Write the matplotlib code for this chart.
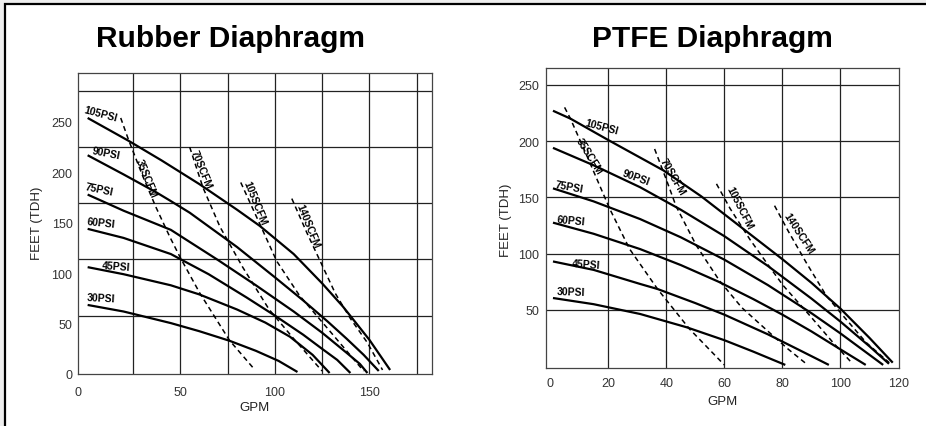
import numpy as np
import matplotlib.pyplot as plt
from matplotlib.patches import Rectangle

plt.rcParams['font.family'] = ['Liberation Sans', 'DejaVu Sans']

# ---------------- Rubber diaphragm (left chart) ----------------
rub_psi_names = ['105PSI', '90PSI', '75PSI', '60PSI', '45PSI', '30PSI']
rub_psi_gpm = [
    [1, 22.5, 40, 60, 80, 92, 110, 125, 136, 150, 161],
    [1, 20, 37.5, 44.6, 55, 80, 100, 115, 128, 138, 147, 155],
    [1, 20, 45, 70, 90, 110, 125, 138, 145, 149],
    [1, 20, 45, 65, 85, 100, 115, 125, 133, 140],
    [1, 20, 45, 60, 80, 95, 108, 120, 129],
    [1, 20, 45, 60, 76, 90, 102, 112],
]
rub_psi_feet = [
    [254, 231.5, 212, 188.5, 163, 147, 119, 90, 67, 34, 4],
    [217, 198, 180, 172, 160, 126, 96, 73, 52, 35, 19, 3],
    [178, 162, 143, 113, 88, 62, 41, 21, 10, 1],
    [144, 135, 119, 99, 76, 58, 39, 25, 14, 1],
    [106, 99, 88, 79, 64, 51, 37, 19, 1],
    [68.5, 62, 50.5, 42.5, 33, 23, 13, 2],
]
rub_scfm_names = ['35SCFM', '70SCFM', '105SCFM', '140SCFM']
rub_scfm_gpm = [
    [18.5, 22.5, 30, 37, 44.6, 50, 60.4, 76, 89.5],
    [55, 62, 71, 83, 97, 110, 125],
    [82, 93, 101, 113, 128, 147],
    [109, 117, 125, 132, 140, 149, 157],
]
rub_scfm_feet = [
    [254, 233, 197, 166, 135.5, 115.5, 80, 33.5, 4],
    [225, 185, 146, 106, 64, 35, 3],
    [190, 145, 112, 78, 45, 3],
    [174, 140, 108, 80, 55, 31, 4],
]
# label anchors (gpm, feet, angle)
rub_psi_lbl = [(8, 258, -15), (11, 219, -11), (7, 184, -12), (8, 150, -6), (16, 107, -4), (8, 76, -3)]
rub_scfm_lbl = [(32, 195, -68), (61, 203, -68), (89.5, 170, -68), (117.7, 147, -68)]
rub_xticks = [-4.1, 50, 100, 150]
rub_xticklabels = ['0', '50', '100', '150']
rub_yticks = [0, 50, 100, 150, 200, 250]
rub_xgrid = [25, 50, 75, 100, 125, 150, 175]
rub_ygrid = [57.8, 113.6, 169.4, 225.2, 281]

# ---------------- PTFE diaphragm (right chart) ----------------
ptfe_psi_names = ['105PSI', '90PSI', '75PSI', '60PSI', '45PSI', '30PSI']
ptfe_psi_gpm = [
    [1, 7, 20, 39, 52, 65, 80, 90, 100, 110, 118],
    [1, 15, 31, 45, 60, 75, 90, 100, 110, 116.7],
    [1, 15, 31, 45, 60, 75, 90, 100, 114.7],
    [1, 15, 31, 45, 58, 70, 80, 90, 100, 108.7],
    [1, 15, 31, 37, 50, 60, 75, 86, 96],
    [1, 15, 31, 47, 60, 70, 81],
]
ptfe_psi_feet = [
    [227, 220, 201, 174, 151, 125, 95, 74, 51, 25, 3],
    [194, 178.5, 159, 139, 115.5, 89, 60, 39.5, 17.5, 2],
    [158, 146.4, 130.7, 114.5, 94.6, 72, 47, 29, 1],
    [127.5, 117.6, 104, 89.8, 75, 59.5, 45.7, 30.8, 14.8, 1],
    [93, 85.5, 73, 68.5, 56, 45.7, 28.2, 14, 1],
    [60.5, 55, 46.3, 34.5, 23, 12.8, 1],
]
ptfe_scfm_names = ['35SCFM', '70SCFM', '105SCFM', '140SCFM']
ptfe_scfm_gpm = [
    [5, 7, 13, 20.5, 27.4, 37, 48, 60],
    [36, 40, 43.4, 50.4, 58.3, 66, 75, 82, 88.7],
    [57.3, 62, 68.7, 74.5, 80.3, 89.4, 97.4, 104.2],
    [77.3, 82, 88.2, 95.1, 100.8, 108.8, 116.8],
]
ptfe_scfm_feet = [
    [230, 220, 185, 140, 104, 68.5, 33, 1],
    [193, 166, 142, 107, 76, 52, 31, 15, 1],
    [162, 140, 113, 92, 71.5, 45, 21, 2],
    [142.6, 120, 92, 62.6, 45, 21, 3],
]
ptfe_psi_lbl = [(17.6, 213, -15), (29.7, 168, -20), (6.5, 160, -10), (7.3, 130, -5), (12.5, 91, -4), (7.3, 66, -2)]
ptfe_scfm_lbl = [(13.6, 187, -58), (42, 169, -60), (65.2, 141, -63), (85.5, 118, -57)]
ptfe_xticks = [0, 20, 40, 60, 80, 100, 120]
ptfe_yticks = [50, 100, 150, 200, 250]
ptfe_xgrid = [20, 40, 60, 80, 100]
ptfe_ygrid = [50, 100, 150, 200, 250]

fig = plt.figure(figsize=(9.26, 4.27), dpi=100, facecolor='#eeeeee')
fig.patches.append(Rectangle((5 / 926, -0.1), 1.1, 1 - 5 / 427 + 0.1, transform=fig.transFigure,
                             facecolor='white', edgecolor='black', linewidth=1.6, zorder=-10))


def draw_curves(ax, psi_x, psi_y, psi_names, psi_lbl, scfm_x, scfm_y, scfm_names, scfm_lbl):
    for xs, ys in zip(psi_x, psi_y):
        ax.plot(xs, ys, color='black', lw=1.6, solid_capstyle='butt', solid_joinstyle='round', zorder=3)
    for xs, ys in zip(scfm_x, scfm_y):
        ax.plot(xs, ys, color='black', lw=1.1, dashes=(3.3, 2.4), zorder=3)
    for name, (x, y, rot) in zip(psi_names + scfm_names, psi_lbl + scfm_lbl):
        ax.text(x, y, name, rotation=rot, fontsize=7.5, fontweight='bold',
                ha='center', va='center', rotation_mode='anchor', zorder=4)


def style(ax, xgrid, ygrid):
    for g in xgrid:
        ax.axvline(g, color='#222222', lw=0.9, zorder=1)
    for g in ygrid:
        ax.axhline(g, color='#222222', lw=0.9, zorder=1)
    for s in ax.spines.values():
        s.set_color('#444444')
        s.set_linewidth(0.9)
    ax.tick_params(which='both', length=0, labelsize=9, labelcolor='#333333')


# left chart
ax1 = fig.add_axes([78 / 926, 1 - 375 / 427, 353.7 / 926, 300.7 / 427])
style(ax1, rub_xgrid, rub_ygrid)
ax1.set_xlim(-4.1, 183)
ax1.set_ylim(0, 298.3)
ax1.set_xticks(rub_xticks)
ax1.set_xticklabels(rub_xticklabels)
ax1.set_yticks(rub_yticks)
ax1.tick_params(axis='x', pad=9)
ax1.tick_params(axis='y', pad=4)
draw_curves(ax1, rub_psi_gpm, rub_psi_feet, rub_psi_names, rub_psi_lbl,
            rub_scfm_gpm, rub_scfm_feet, rub_scfm_names, rub_scfm_lbl)

# right chart
ax2 = fig.add_axes([546.3 / 926, 1 - 369.3 / 427, 352.4 / 926, 300.3 / 427])
style(ax2, ptfe_xgrid, ptfe_ygrid)
ax2.set_xlim(-1.3, 120.05)
ax2.set_ylim(-2, 265)
ax2.set_xticks(ptfe_xticks)
ax2.set_yticks(ptfe_yticks)
ax2.tick_params(axis='x', pad=6)
ax2.tick_params(axis='y', pad=5)
draw_curves(ax2, ptfe_psi_gpm, ptfe_psi_feet, ptfe_psi_names, ptfe_psi_lbl,
            ptfe_scfm_gpm, ptfe_scfm_feet, ptfe_scfm_names, ptfe_scfm_lbl)

# titles and axis labels
fig.text(230 / 926, 1 - 47 / 427, 'Rubber Diaphragm', fontsize=21.5, fontweight='bold',
         ha='center', va='baseline')
fig.text(712 / 926, 1 - 47 / 427, 'PTFE Diaphragm', fontsize=21.5, fontweight='bold',
         ha='center', va='baseline')
fig.text(36.7 / 926, 1 - 223 / 427, 'FEET (TDH)', rotation=90, fontsize=9.5, color='#222222',
         ha='center', va='center')
fig.text(255 / 926, 1 - 408 / 427, 'GPM', fontsize=9.5, color='#222222', ha='center', va='center')
fig.text(506.3 / 926, 1 - 220 / 427, 'FEET (TDH)', rotation=90, fontsize=9.5, color='#222222',
         ha='center', va='center')
fig.text(723 / 926, 1 - 401.7 / 427, 'GPM', fontsize=9.5, color='#222222', ha='center', va='center')

plt.savefig('out.png', dpi=100, facecolor=fig.get_facecolor())
